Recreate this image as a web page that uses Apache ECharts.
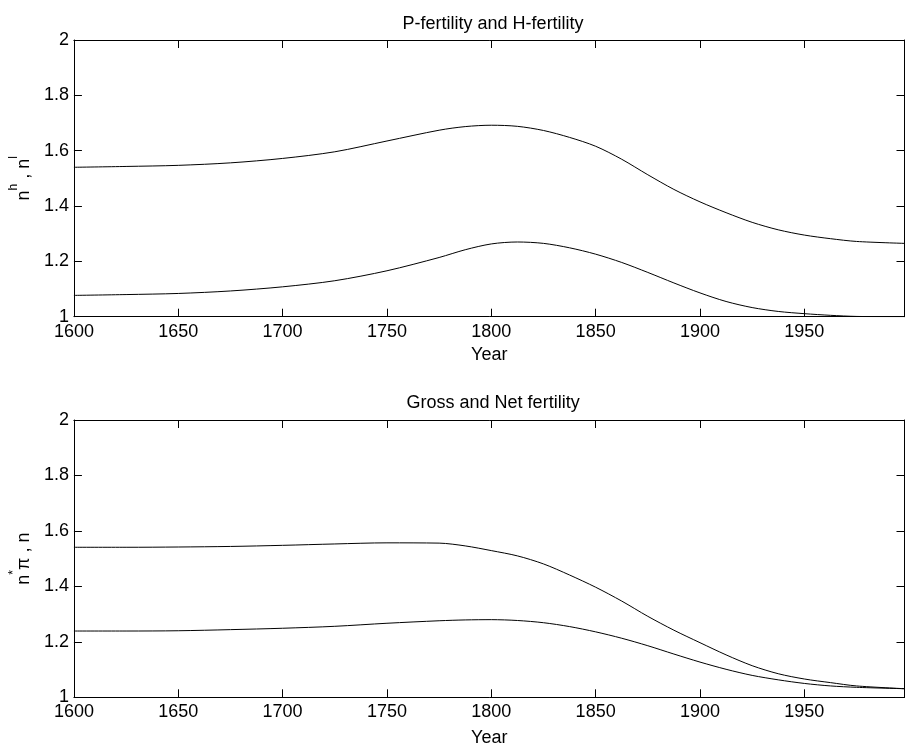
<!DOCTYPE html>
<html>
<head>
<meta charset="utf-8">
<script src="https://cdn.jsdelivr.net/npm/echarts@6/dist/echarts.min.js"></script>
<style>html,body{margin:0;padding:0;background:#fff;}#c{width:908px;height:751px;}</style>
</head>
<body>
<div id="c"></div>
<script>
const years = [1600,1625,1650,1675,1700,1725,1750,1775,1787.5,1800,1812.5,1825,1837.5,1850,1862.5,1875,1887.5,1900,1912.5,1925,1937.5,1950,1962.5,1975,1998];
const nHigh = [1.540,1.543,1.547,1.556,1.572,1.596,1.635,1.674,1.687,1.692,1.688,1.673,1.648,1.616,1.569,1.513,1.460,1.415,1.376,1.341,1.314,1.295,1.282,1.272,1.265];
const nLow  = [1.077,1.080,1.084,1.093,1.108,1.130,1.166,1.214,1.242,1.263,1.270,1.265,1.249,1.226,1.196,1.160,1.122,1.086,1.055,1.033,1.019,1.011,1.005,1.001,1.000];
const grossFert = [1.541,1.541,1.542,1.544,1.548,1.553,1.557,1.556,1.546,1.529,1.510,1.481,1.441,1.397,1.347,1.292,1.242,1.197,1.153,1.114,1.085,1.066,1.053,1.041,1.031];
const netFert   = [1.239,1.239,1.240,1.244,1.249,1.256,1.267,1.276,1.279,1.280,1.277,1.269,1.255,1.236,1.213,1.186,1.156,1.127,1.101,1.079,1.063,1.050,1.041,1.036,1.031];
const titles = ['P-fertility and H-fertility', 'Gross and Net fertility'];
const yNames = ['{n|n}{s|h}{n| , n}{s|l}', '{n|n}{s|*}{n|π , n}'];
const xName = 'Year';

const FONT = "'Liberation Sans', Arial, Helvetica, sans-serif";
const pair = (xs, ys) => xs.map((x, i) => [x, ys[i]]);
const lineStyleAx = { color: '#000', width: 1 };
const grids = [
  { left: 71.7, top: 40, width: 832.8, height: 276.7 },
  { left: 71.7, top: 420, width: 832.8, height: 277.3 }
];
const nameGaps = [29, 32];
const xAxes = [], yAxes = [];
grids.forEach((g, i) => {
  const base = { type: 'value', gridIndex: i, min: 1600, max: 1998, interval: 50,
    axisLine: { show: true, onZero: false, lineStyle: lineStyleAx },
    axisTick: { show: true, inside: true, length: 8, lineStyle: lineStyleAx },
    splitLine: { show: false } };
  xAxes.push(Object.assign({}, base, { position: 'bottom',
    name: xName, nameLocation: 'middle', nameGap: nameGaps[i],
    nameTextStyle: { fontFamily: FONT, fontSize: 18, color: '#000' },
    axisLabel: { show: true, margin: 6, fontFamily: FONT, fontSize: 18, color: '#000',
      formatter: v => (v % 50 === 0 ? String(v) : '') } }));
  xAxes.push(Object.assign({}, base, { position: 'top', axisLabel: { show: false } }));
  const ybase = { type: 'value', gridIndex: i, min: 1, max: 2, interval: 0.2,
    axisLine: { show: true, onZero: false, lineStyle: lineStyleAx },
    axisTick: { show: true, inside: true, length: 8, lineStyle: lineStyleAx },
    splitLine: { show: false } };
  yAxes.push(Object.assign({}, ybase, { position: 'left',
    name: yNames[i], nameLocation: 'middle', nameRotate: 90, nameGap: 30,
    nameTextStyle: { fontFamily: FONT, color: '#000',
      rich: { n: { fontFamily: FONT, fontSize: 18, lineHeight: 32, color: '#000' },
              s: { fontFamily: FONT, fontSize: 12, lineHeight: 13, verticalAlign: 'top', color: '#000' } } },
    axisLabel: { show: true, margin: 5, fontFamily: FONT, fontSize: 18, color: '#000' } }));
  yAxes.push(Object.assign({}, ybase, { position: 'right', axisLabel: { show: false } }));
});
const mk = (xi, yi, data) => ({ type: 'line', xAxisIndex: xi, yAxisIndex: yi, data: data,
  smooth: 0.3, showSymbol: false, symbol: 'none', lineStyle: { color: '#000', width: 1 }, silent: true, animation: false });
const option = {
  backgroundColor: '#fff',
  animation: false,
  title: [
    { text: titles[0], left: 488.1, top: 10, textAlign: 'center',
      textStyle: { fontFamily: FONT, fontSize: 18, fontWeight: 'normal', color: '#000' } },
    { text: titles[1], left: 488.1, top: 389, textAlign: 'center',
      textStyle: { fontFamily: FONT, fontSize: 18, fontWeight: 'normal', color: '#000' } }
  ],
  grid: grids,
  xAxis: xAxes,
  yAxis: yAxes,
  series: [
    mk(0, 0, pair(years, nHigh)),
    mk(0, 0, pair(years, nLow)),
    mk(2, 2, pair(years, grossFert)),
    mk(2, 2, pair(years, netFert))
  ]
};
const chart = echarts.init(document.getElementById('c'), null, { renderer: 'canvas' });
chart.setOption(option);
</script>
</body>
</html>
